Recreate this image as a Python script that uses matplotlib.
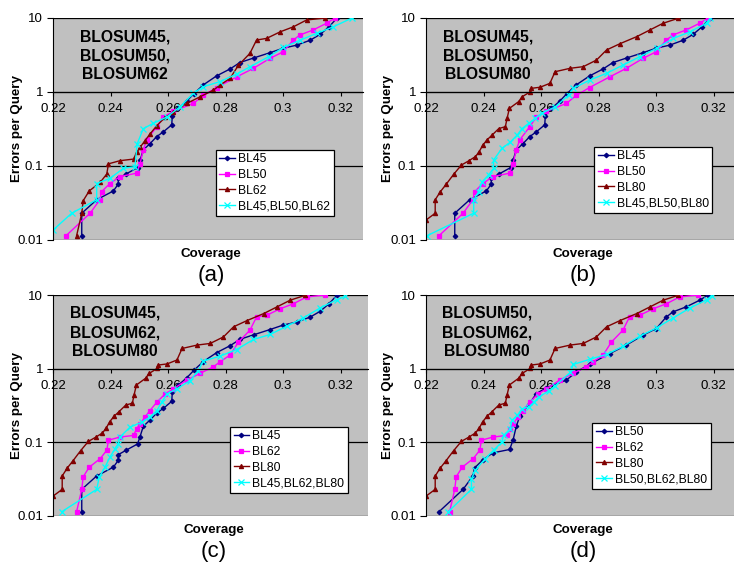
import matplotlib
matplotlib.use("Agg")
import matplotlib.pyplot as plt
from matplotlib.ticker import FixedLocator, FixedFormatter, NullLocator

plt.rcParams["font.family"] = ["Liberation Sans", "DejaVu Sans"]

# --- data (coverage, errors per query) ---
BL45_X = [0.2300, 0.2300, 0.2352, 0.2410, 0.2427, 0.2427, 0.2454, 0.2494, 0.2503, 0.2514,
          0.2537, 0.2561, 0.2584, 0.2613, 0.2615, 0.2636, 0.2665, 0.2690, 0.2723, 0.2769,
          0.2816, 0.2850, 0.2900, 0.2955, 0.3000, 0.3048, 0.3094, 0.3129, 0.3160, 0.3187]
BL45_Y = [0.0114, 0.023, 0.035, 0.046, 0.057, 0.068, 0.078, 0.095, 0.12, 0.165,
          0.20, 0.25, 0.29, 0.36, 0.48, 0.60, 0.75, 0.95, 1.25, 1.65,
          2.05, 2.5, 2.9, 3.4, 3.9, 4.3, 5.0, 6.0, 7.6, 9.9]

BL50_X = [0.2245, 0.2329, 0.2363, 0.2369, 0.2398, 0.2433, 0.2491, 0.2503, 0.2514, 0.2526,
          0.2561, 0.2584, 0.2619, 0.2688, 0.2723, 0.2769, 0.2839, 0.2897, 0.2955, 0.3001,
          0.3035, 0.3059, 0.3105, 0.3152, 0.3181]
BL50_Y = [0.0114, 0.023, 0.035, 0.045, 0.058, 0.072, 0.080, 0.108, 0.165, 0.225,
          0.34, 0.46, 0.55, 0.70, 0.90, 1.15, 1.6, 2.09, 2.85, 3.5,
          5.0, 5.9, 6.9, 8.5, 10.0]

BL62_X = [0.2282, 0.2300, 0.2305, 0.2326, 0.2364, 0.2387, 0.2393, 0.2433, 0.2480, 0.2491,
          0.2503, 0.2520, 0.2537, 0.2561, 0.2590, 0.2619, 0.2665, 0.2711, 0.2758, 0.2781,
          0.2816, 0.2845, 0.2885, 0.2908, 0.2943, 0.2990, 0.3036, 0.3082, 0.3146]
BL62_Y = [0.0114, 0.023, 0.034, 0.046, 0.060, 0.078, 0.107, 0.118, 0.124, 0.153,
          0.179, 0.22, 0.27, 0.35, 0.455, 0.53, 0.70, 0.86, 1.06, 1.24,
          1.53, 2.3, 3.33, 5.04, 5.3, 6.5, 7.6, 9.4, 10.0]

BL80_X = [0.2200, 0.2232, 0.2232, 0.2250, 0.2270, 0.2296, 0.2323, 0.2348, 0.2372, 0.2385,
          0.2397, 0.2412, 0.2430, 0.2453, 0.2476, 0.2482, 0.2490, 0.2522, 0.2534, 0.2563,
          0.2566, 0.2597, 0.2631, 0.2649, 0.2701, 0.2747, 0.2793, 0.2828, 0.2875, 0.2933,
          0.2979, 0.3025, 0.3077]
BL80_Y = [0.0186, 0.023, 0.035, 0.045, 0.0565, 0.077, 0.103, 0.117, 0.134, 0.156,
          0.19, 0.225, 0.262, 0.32, 0.34, 0.44, 0.60, 0.74, 0.86, 1.01,
          1.12, 1.16, 1.31, 1.88, 2.09, 2.2, 2.7, 3.7, 4.5, 5.6,
          6.9, 8.5, 9.9]

C456_X = [0.2201, 0.2265, 0.2352, 0.2352, 0.2398, 0.2445, 0.2485, 0.2493, 0.2514, 0.2549,
          0.2596, 0.2642, 0.2688, 0.2723, 0.2781, 0.2839, 0.2886, 0.2950, 0.3001, 0.3059,
          0.3117, 0.3175, 0.3240]
C456_Y = [0.0137, 0.023, 0.035, 0.058, 0.068, 0.093, 0.098, 0.20, 0.32, 0.377,
          0.46, 0.63, 0.96, 1.18, 1.38, 1.75, 2.2, 3.0, 4.0, 5.0,
          6.2, 7.6, 10.0]

C4580_X = [0.2203, 0.2366, 0.2366, 0.2383, 0.2395, 0.2418, 0.2435, 0.2435, 0.2464, 0.2493,
           0.2517, 0.2534, 0.2557, 0.2580, 0.2603, 0.2650, 0.2696, 0.2712, 0.2770, 0.2828,
           0.2886, 0.2944, 0.3002, 0.3060, 0.3118, 0.3176, 0.3188]
C4580_Y = [0.0114, 0.023, 0.035, 0.045, 0.061, 0.076, 0.093, 0.12, 0.173, 0.21,
           0.262, 0.32, 0.377, 0.44, 0.52, 0.63, 0.91, 1.12, 1.45, 1.79,
           2.32, 3.0, 3.9, 5.3, 6.5, 8.5, 9.9]

C4680_X = [0.2230, 0.2352, 0.2361, 0.2381, 0.2398, 0.2416, 0.2427, 0.2433, 0.2468, 0.2509,
           0.2537, 0.2561, 0.2578, 0.2596, 0.2630, 0.2677, 0.2705, 0.2723, 0.2781, 0.2839,
           0.2897, 0.2955, 0.3013, 0.3071, 0.3129, 0.3187, 0.3216]
C4680_Y = [0.0114, 0.023, 0.034, 0.046, 0.063, 0.082, 0.096, 0.118, 0.161, 0.188,
           0.22, 0.27, 0.35, 0.455, 0.53, 0.69, 0.94, 1.27, 1.48, 1.82,
           2.49, 2.91, 3.77, 4.89, 6.66, 8.64, 9.6]

C5680_X = [0.2277, 0.2358, 0.2358, 0.2372, 0.2406, 0.2435, 0.2464, 0.2470, 0.2493, 0.2499,
           0.2517, 0.2534, 0.2557, 0.2575, 0.2592, 0.2627, 0.2650, 0.2702, 0.2712, 0.2770,
           0.2828, 0.2886, 0.2944, 0.3002, 0.3060, 0.3118, 0.3176, 0.3194]
C5680_Y = [0.0114, 0.023, 0.032, 0.042, 0.060, 0.078, 0.101, 0.124, 0.153, 0.198,
           0.232, 0.285, 0.30, 0.35, 0.41, 0.50, 0.59, 0.89, 1.14, 1.34,
           1.56, 2.02, 2.76, 3.58, 4.89, 6.66, 8.6, 9.8]

X_TICKS = [0.22, 0.24, 0.26, 0.28, 0.30, 0.32]
X_TICK_LABELS = ["0.22", "0.24", "0.26", "0.28", "0.3", "0.32"]
Y_TICKS = [0.01, 0.1, 1, 10]
Y_TICK_LABELS = ["0.01", "0.1", "1", "10"]

NAVY = "#000080"
MAGENTA = "#FF00FF"
DARKRED = "#800000"
CYAN = "#00FFFF"
PLOT_BG = "#C0C0C0"

W, H = 734, 565
PX_PER_UNIT = 2875.0  # pixels per unit of coverage


def draw_panel(fig, box, series, title, title_x, leg_anchor, letter, ylab_x):
    left, top, right, bottom = box
    ax = fig.add_axes([left / W, 1 - bottom / H, (right - left) / W, (bottom - top) / H])
    ax.set_facecolor(PLOT_BG)

    for xs, ys, color, marker, ms, label in series:
        ax.plot(xs, ys, color=color, lw=1.0, marker=marker, ms=ms, mew=0.9,
                mec=color, mfc=color, label=label, clip_on=True)

    ax.set_yscale("log")
    ax.set_xlim(0.22, 0.22 + (right - left) / PX_PER_UNIT)
    ax.set_ylim(0.01, 10)
    ax.yaxis.set_major_locator(FixedLocator(Y_TICKS))
    ax.yaxis.set_major_formatter(FixedFormatter(Y_TICK_LABELS))
    ax.yaxis.set_minor_locator(NullLocator())
    ax.xaxis.set_major_locator(FixedLocator(X_TICKS))
    ax.xaxis.set_major_formatter(FixedFormatter(X_TICK_LABELS))

    # x axis crosses at 1, like Excel does
    ax.spines["bottom"].set_position(("data", 1))
    ax.spines["bottom"].set_color("black")
    ax.spines["left"].set_color("black")
    ax.spines["top"].set_visible(False)
    ax.spines["right"].set_visible(False)
    ax.yaxis.grid(True, color="black", lw=0.9)
    ax.set_axisbelow(True)
    ax.tick_params(axis="x", direction="out", length=3, pad=5, labelsize=9.5, color="black")
    ax.tick_params(axis="y", direction="out", length=4, pad=3, labelsize=9.5, color="black")

    ax.text(title_x, 0.83, title, transform=ax.transAxes, ha="center", va="center",
            fontsize=11.3, fontweight="bold", linespacing=1.35, multialignment="center")

    leg = ax.legend(loc="lower right", bbox_to_anchor=leg_anchor, fontsize=8.8,
                    frameon=True, fancybox=False, edgecolor="black", framealpha=1,
                    borderpad=0.3, labelspacing=0.3, handlelength=1.3,
                    handletextpad=0.25, borderaxespad=0)
    leg.get_frame().set_linewidth(0.9)

    cx = (left + right) / 2 + 3
    fig.text(cx / W, 1 - (bottom + 14) / H, "Coverage", ha="center", va="center",
             fontsize=9.6, fontweight="bold")
    fig.text(cx / W, 1 - (bottom + 35) / H, letter, ha="center", va="center", fontsize=16)
    fig.text(ylab_x / W, 1 - ((top + bottom) / 2) / H, "Errors per Query", rotation=90,
             ha="center", va="center", fontsize=9.6, fontweight="bold")
    return ax


fig = plt.figure(figsize=(W / 100, H / 100), dpi=100)

draw_panel(fig, (53, 18, 363, 240),
           [(BL45_X, BL45_Y, NAVY, "D", 2.3, "BL45"),
            (BL50_X, BL50_Y, MAGENTA, "s", 2.6, "BL50"),
            (BL62_X, BL62_Y, DARKRED, "^", 3.0, "BL62"),
            (C456_X, C456_Y, CYAN, "x", 3.8, "BL45,BL50,BL62")],
           "BLOSUM45,\nBLOSUM50,\nBLOSUM62", 0.232, (0.906, 0.108), "(a)", 17)

draw_panel(fig, (426, 18, 734, 240),
           [(BL45_X, BL45_Y, NAVY, "D", 2.3, "BL45"),
            (BL50_X, BL50_Y, MAGENTA, "s", 2.6, "BL50"),
            (BL80_X, BL80_Y, DARKRED, "^", 3.0, "BL80"),
            (C4580_X, C4580_Y, CYAN, "x", 3.8, "BL45,BL50,BL80")],
           "BLOSUM45,\nBLOSUM50,\nBLOSUM80", 0.201, (0.930, 0.122), "(b)", 388)

draw_panel(fig, (53, 295, 368, 516),
           [(BL45_X, BL45_Y, NAVY, "D", 2.3, "BL45"),
            (BL62_X, BL62_Y, MAGENTA, "s", 2.6, "BL62"),
            (BL80_X, BL80_Y, DARKRED, "^", 3.0, "BL80"),
            (C4680_X, C4680_Y, CYAN, "x", 3.8, "BL45,BL62,BL80")],
           "BLOSUM45,\nBLOSUM62,\nBLOSUM80", 0.197, (0.937, 0.104), "(c)", 17)

draw_panel(fig, (426, 295, 734, 516),
           [(BL50_X, BL50_Y, NAVY, "D", 2.3, "BL50"),
            (BL62_X, BL62_Y, MAGENTA, "s", 2.6, "BL62"),
            (BL80_X, BL80_Y, DARKRED, "^", 3.0, "BL80"),
            (C5680_X, C5680_Y, CYAN, "x", 3.8, "BL50,BL62,BL80")],
           "BLOSUM50,\nBLOSUM62,\nBLOSUM80", 0.198, (0.924, 0.122), "(d)", 388)

fig.savefig("out.png", dpi=100)
